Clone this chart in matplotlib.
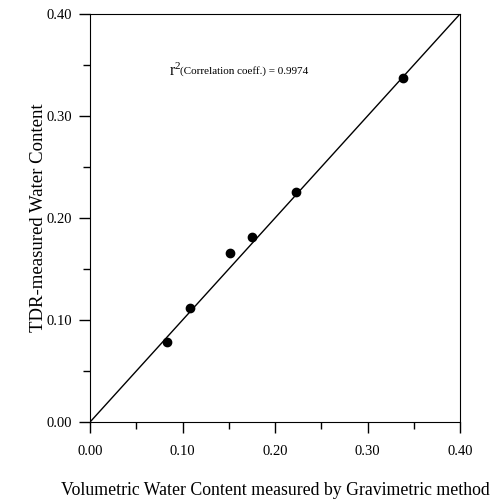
import numpy as np
import matplotlib.pyplot as plt
from matplotlib.ticker import MultipleLocator

# gravimetric vs TDR water content
grav = [0.083, 0.108, 0.151, 0.175, 0.223, 0.338]
tdr = [0.078, 0.112, 0.166, 0.181, 0.225, 0.337]
one_to_one = [0.0, 0.40]
r2 = 0.9974

plt.rcParams['font.family'] = ['Liberation Serif', 'DejaVu Serif']

fig = plt.figure(figsize=(4.93, 5.01), dpi=100)
ax = fig.add_axes([0.183, 0.158, 0.750, 0.814])

ax.plot(one_to_one, one_to_one, color='black', lw=1.0)
ax.plot(grav, tdr, 'o', color='black', markersize=6)

ax.set_xlim(0, 0.40)
ax.set_ylim(0, 0.40)
ax.xaxis.set_major_locator(MultipleLocator(0.10))
ax.xaxis.set_minor_locator(MultipleLocator(0.05))
ax.yaxis.set_major_locator(MultipleLocator(0.10))
ax.yaxis.set_minor_locator(MultipleLocator(0.05))
ax.xaxis.set_major_formatter(lambda v, p: f'{v:.2f}')
ax.yaxis.set_major_formatter(lambda v, p: f'{v:.2f}')
ax.tick_params(which='major', direction='out', length=8, width=1, labelsize=10.5)
ax.tick_params(which='minor', direction='out', length=5, width=1)
ax.tick_params(axis='x', which='major', pad=9)
ax.tick_params(axis='y', which='major', pad=5)

ax.set_xlabel('Volumetric Water Content measured by Gravimetric method', fontsize=12.8)
ax.set_ylabel('TDR-measured Water Content', fontsize=13.5)
ax.xaxis.set_label_coords(0.5, -0.148)
ax.yaxis.set_label_coords(-0.118, 0.5)

ax.text(0.0855, 0.340, 'r', fontsize=11.5)
ax.text(0.0915, 0.346, '2', fontsize=8)
ax.text(0.097, 0.341, f'(Correlation coeff.) = {r2}', fontsize=8)

fig.savefig('out.png', dpi=100)
